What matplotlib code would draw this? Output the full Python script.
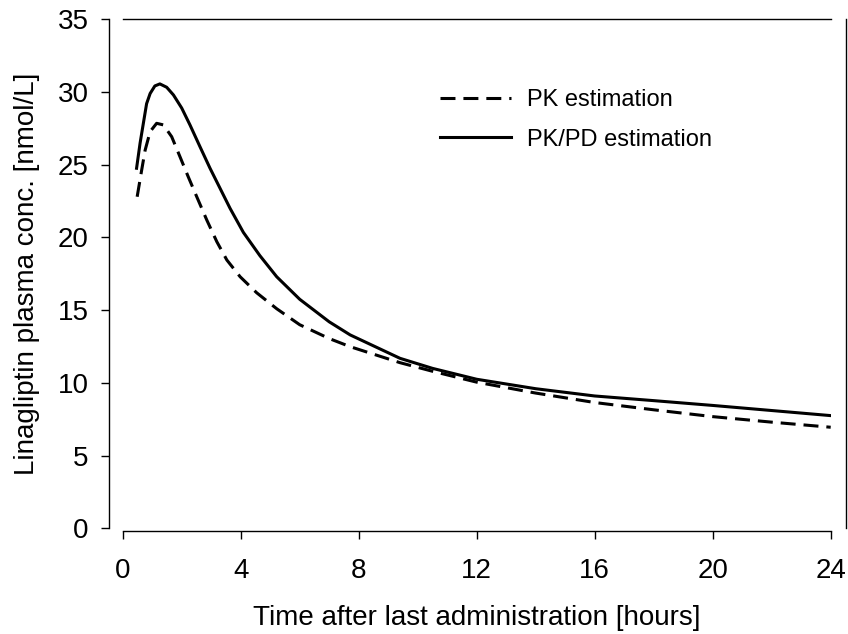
import matplotlib
matplotlib.use('Agg')
import matplotlib.pyplot as plt

plt.rcParams['font.family'] = ['Liberation Sans', 'DejaVu Sans']

# --- data ---
t_pk = [0.49, 0.64, 0.76, 0.93, 1.15, 1.38, 1.66, 1.94, 2.22, 2.51, 2.85, 3.19,
        3.53, 3.98, 4.54, 5.22, 6.0, 7.0, 7.71, 9.4, 10.5, 12.0, 14.0, 16.0, 18.0,
        20.0, 22.0, 24.0]
c_pk = [22.8, 24.6, 26.0, 27.28, 27.85, 27.74, 26.93, 25.56, 24.18, 22.8, 21.2,
        19.71, 18.45, 17.3, 16.2, 15.1, 14.0, 13.05, 12.49, 11.39, 10.8, 10.05,
        9.3, 8.65, 8.15, 7.68, 7.3, 6.95]

t_pkpd = [0.47, 0.59, 0.70, 0.81, 0.93, 1.09, 1.26, 1.49, 1.72, 2.0, 2.28, 2.62,
          2.96, 3.3, 3.64, 4.09, 4.65, 5.22, 6.0, 7.0, 7.71, 9.4, 10.5, 12.0,
          14.0, 16.0, 18.0, 20.0, 22.0, 24.0]
c_pkpd = [24.76, 26.5, 27.85, 29.2, 29.9, 30.42, 30.56, 30.33, 29.8, 28.9, 27.74,
          26.24, 24.76, 23.38, 22.0, 20.35, 18.75, 17.3, 15.75, 14.2, 13.3, 11.69,
          11.0, 10.25, 9.6, 9.1, 8.78, 8.45, 8.1, 7.75]

x_ticks = [0, 4, 8, 12, 16, 20, 24]
y_ticks = [0, 5, 10, 15, 20, 25, 30, 35]

fig = plt.figure(figsize=(8.48, 6.34), dpi=100)
ax = fig.add_axes([0.1447, 0.1667, 0.8349, 0.8028])

ax.plot(t_pk, c_pk, color='black', lw=2.2, dashes=(4.9, 2.6), label='PK estimation')
ax.plot(t_pkpd, c_pkpd, color='black', lw=2.2, label='PK/PD estimation')

ax.set_xlim(0, 24)
ax.set_ylim(0, 35)
ax.set_xticks(x_ticks)
ax.set_yticks(y_ticks)

# sigmaplot-like offset frame
ax.spines['left'].set_position(('outward', 10))
ax.spines['right'].set_position(('outward', 11))
ax.spines['bottom'].set_position(('outward', 2))
for s in ax.spines.values():
    s.set_linewidth(1.0)

ax.tick_params(axis='both', direction='out', length=5.5, width=1.0, labelsize=20)
ax.tick_params(axis='y', pad=9)
ax.tick_params(axis='x', pad=14)

ax.set_xlabel('Time after last administration [hours]', fontsize=20, labelpad=15)
ax.set_ylabel('Linagliptin plasma conc. [nmol/L]', fontsize=20, labelpad=13)

ax.legend(loc='upper left', bbox_to_anchor=(0.418, 0.905), frameon=False,
          fontsize=17, handlelength=3.0, handletextpad=0.7, labelspacing=0.75)

fig.savefig('out.png', dpi=100)
